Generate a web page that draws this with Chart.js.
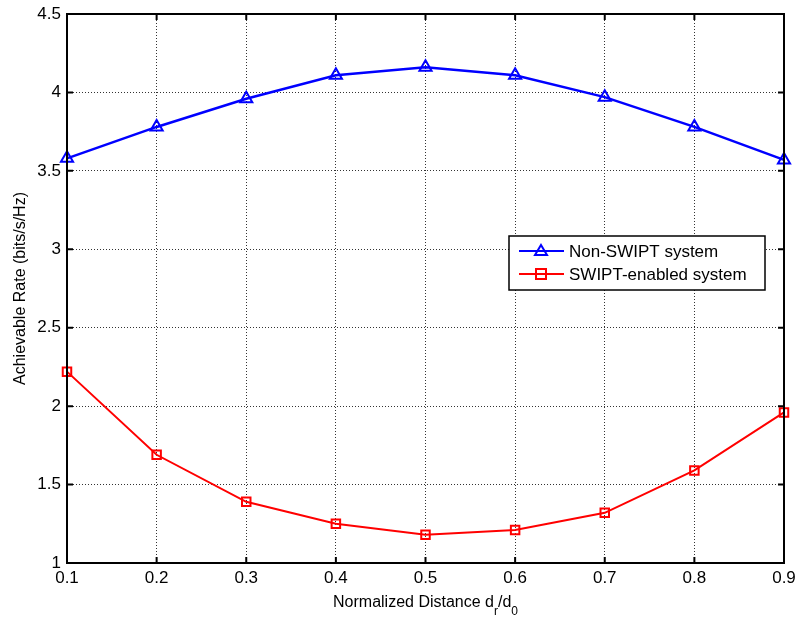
<!DOCTYPE html>
<html>
<head>
<meta charset="utf-8">
<script src="https://cdn.jsdelivr.net/npm/chart.js"></script>
<style>
  html, body { margin: 0; padding: 0; background: #fff; }
  #wrap { width: 799px; height: 619px; }
</style>
</head>
<body>
<div id="wrap"><canvas id="myChart" width="799" height="619"></canvas></div>
<script>
// values
const distances = [0.1, 0.2, 0.3, 0.4, 0.5, 0.6, 0.7, 0.8, 0.9];
const nonSwipt = [3.58, 3.78, 3.96, 4.11, 4.16, 4.11, 3.97, 3.78, 3.57];
const swiptEnabled = [2.22, 1.69, 1.39, 1.25, 1.18, 1.21, 1.32, 1.59, 1.96];
const seriesNames = ["Non-SWIPT system", "SWIPT-enabled system"];
const xTitle = ["Normalized Distance d", "r", "/d", "0"];
const yTitle = "Achievable Rate (bits/s/Hz)";

const FONT = "Liberation Sans, Arial, sans-serif";

function toPoints(ys) {
  return distances.map((x, i) => ({ x: x, y: ys[i] }));
}

// box, inward ticks, legend and axis titles like the matlab figure
const matlabBits = {
  id: "matlabBits",
  afterDraw(chart) {
    const ctx = chart.ctx;
    const a = chart.chartArea;
    const xs = chart.scales.x, ys = chart.scales.y;
    ctx.save();
    ctx.strokeStyle = "#000";
    ctx.lineWidth = 2;
    ctx.strokeRect(a.left, a.top, a.right - a.left, a.bottom - a.top);

    ctx.lineWidth = 2;
    ctx.beginPath();
    xs.ticks.forEach(t => {
      const px = xs.getPixelForValue(t.value);
      ctx.moveTo(px, a.bottom); ctx.lineTo(px, a.bottom - 6);
      ctx.moveTo(px, a.top); ctx.lineTo(px, a.top + 6);
    });
    ys.ticks.forEach(t => {
      const py = ys.getPixelForValue(t.value);
      ctx.moveTo(a.left, py); ctx.lineTo(a.left + 6, py);
      ctx.moveTo(a.right, py); ctx.lineTo(a.right - 6, py);
    });
    ctx.stroke();

    // legend
    const lx = 509, ly = 236, lw = 256, lh = 54;
    ctx.fillStyle = "#fff";
    ctx.fillRect(lx, ly, lw, lh);
    ctx.lineWidth = 1.5;
    ctx.strokeStyle = "#000";
    ctx.strokeRect(lx, ly, lw, lh);
    chart.data.datasets.forEach((ds, i) => {
      const cy = ly + 15 + i * 23;
      ctx.strokeStyle = ds.borderColor;
      ctx.lineWidth = 2;
      ctx.beginPath();
      ctx.moveTo(lx + 10, cy); ctx.lineTo(lx + 55, cy);
      ctx.stroke();
      ctx.beginPath();
      if (ds.pointStyle === "triangle") {
        ctx.moveTo(lx + 32, cy - 6); ctx.lineTo(lx + 38, cy + 4); ctx.lineTo(lx + 26, cy + 4); ctx.closePath();
      } else {
        ctx.rect(lx + 27, cy - 5, 10, 10);
      }
      ctx.stroke();
      ctx.fillStyle = "#000";
      ctx.font = "17px " + FONT;
      ctx.textBaseline = "middle";
      ctx.textAlign = "left";
      ctx.fillText(ds.label, lx + 60, cy + 1);
    });

    // y title
    ctx.fillStyle = "#000";
    ctx.font = "16px " + FONT;
    ctx.translate(21, (a.top + a.bottom) / 2);
    ctx.rotate(-Math.PI / 2);
    ctx.textAlign = "center";
    ctx.textBaseline = "middle";
    ctx.fillText(yTitle, 0, 0);
    ctx.restore();

    // x title with subscripts
    ctx.save();
    ctx.fillStyle = "#000";
    ctx.textBaseline = "alphabetic";
    ctx.textAlign = "left";
    const big = "16px " + FONT, small = "12px " + FONT;
    ctx.font = big; const w0 = ctx.measureText(xTitle[0]).width; const w2 = ctx.measureText(xTitle[2]).width;
    ctx.font = small; const w1 = ctx.measureText(xTitle[1]).width; const w3 = ctx.measureText(xTitle[3]).width;
    let x = (a.left + a.right) / 2 - (w0 + w1 + w2 + w3) / 2;
    const base = 607;
    ctx.font = big; ctx.fillText(xTitle[0], x, base); x += w0;
    ctx.font = small; ctx.fillText(xTitle[1], x, base + 8); x += w1;
    ctx.font = big; ctx.fillText(xTitle[2], x, base); x += w2;
    ctx.font = small; ctx.fillText(xTitle[3], x, base + 8);
    ctx.restore();
  }
};

const ctx = document.getElementById("myChart").getContext("2d");
const mychart = new Chart(ctx, {
  type: "line",
  data: {
    datasets: [
      {
        label: seriesNames[0],
        data: toPoints(nonSwipt),
        borderColor: "#0000ff",
        backgroundColor: "rgba(0,0,0,0)",
        borderWidth: 2.5,
        pointStyle: "triangle",
        pointRadius: 7,
        pointBorderWidth: 2,
        pointBackgroundColor: "rgba(0,0,0,0)",
        clip: false
      },
      {
        label: seriesNames[1],
        data: toPoints(swiptEnabled),
        borderColor: "#ff0000",
        backgroundColor: "rgba(0,0,0,0)",
        borderWidth: 2,
        pointStyle: "rect",
        pointRadius: 6,
        pointBorderWidth: 2,
        pointBackgroundColor: "rgba(0,0,0,0)",
        clip: false
      }
    ]
  },
  options: {
    responsive: false,
    animation: false,
    layout: { padding: { left: 0, top: 14, right: 15, bottom: 0 } },
    plugins: {
      legend: { display: false },
      tooltip: { enabled: false }
    },
    scales: {
      x: {
        type: "linear",
        min: 0.1,
        max: 0.9,
        ticks: {
          stepSize: 0.1,
          color: "#000",
          font: { family: FONT, size: 17 },
          padding: 5,
          maxRotation: 0,
          callback: v => (Math.round(v * 10) / 10).toString()
        },
        grid: { color: "#333", lineWidth: 1, drawTicks: false },
        border: { display: false, dash: [1, 2] },
        afterFit: s => { s.height = 56; s.paddingLeft = 0; s.paddingRight = 0; }
      },
      y: {
        min: 1,
        max: 4.5,
        ticks: {
          stepSize: 0.5,
          color: "#000",
          font: { family: FONT, size: 17 },
          padding: 6,
          callback: v => (Math.round(v * 10) / 10).toString()
        },
        grid: { color: "#333", lineWidth: 1, drawTicks: false },
        border: { display: false, dash: [1, 2] },
        afterFit: s => { s.width = 67; s.paddingTop = 0; s.paddingBottom = 0; }
      }
    }
  },
  plugins: [matlabBits]
});
</script>
</body>
</html>
